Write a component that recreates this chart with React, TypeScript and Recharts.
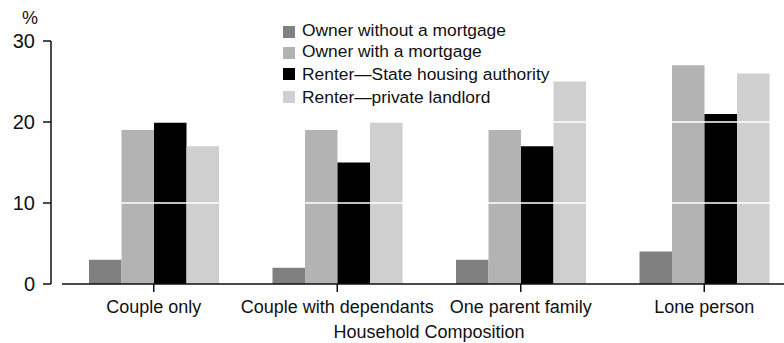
import React from 'react';
import {
  BarChart,
  Bar,
  XAxis,
  YAxis,
  Legend,
  ReferenceLine,
  Label,
} from 'recharts';

const categories = ['Couple only', 'Couple with dependants', 'One parent family', 'Lone person'];
const ownerNoMortgage = [3, 2, 3, 4];
const ownerMortgage = [19, 19, 19, 27];
const renterState = [20, 15, 17, 21];
const renterPrivate = [17, 20, 25, 26];
const yTicks = [0, 10, 20, 30];
const gridValues = [10, 20];

const series = [
  { key: 'ownerNoMortgage', name: 'Owner without a mortgage', color: '#808080' },
  { key: 'ownerMortgage', name: 'Owner with a mortgage', color: '#b3b3b3' },
  { key: 'renterState', name: 'Renter\u2014State housing authority', color: '#000000' },
  { key: 'renterPrivate', name: 'Renter\u2014private landlord', color: '#cfcfcf' },
];

const data = categories.map((cat, i) => ({
  cat,
  ownerNoMortgage: ownerNoMortgage[i],
  ownerMortgage: ownerMortgage[i],
  renterState: renterState[i],
  renterPrivate: renterPrivate[i],
}));

const FONT = '"Liberation Sans", Arial, sans-serif';

// rows in the source legend are not evenly spaced
const rowCentres = [30.5, 51, 74, 97];
const squareShift = [1.5, 1.5, 0, 0];

const LegendBox = () => (
  <div style={{ position: 'relative', width: 300, height: 110, fontFamily: FONT }}>
    {series.map((s, i) => (
      <div key={s.key} style={{ position: 'absolute', left: 0, top: rowCentres[i] - 8.5, height: 17, display: 'flex', alignItems: 'center', whiteSpace: 'nowrap' }}>
        <span style={{ width: 12, height: 12, background: s.color, display: 'inline-block', marginRight: 7, position: 'relative', top: squareShift[i] }} />
        <span style={{ fontSize: 17.4, color: '#111', lineHeight: '17px' }}>{s.name}</span>
      </div>
    ))}
  </div>
);

const XTick = ({ x, y, payload }: any) => (
  <text x={x} y={y + 21} textAnchor="middle" fontSize={18} fontFamily={FONT} fill="#111">
    {payload.value}
  </text>
);

export default function App() {
  return (
    <div style={{ position: 'absolute', left: 0, top: 0, width: 784, height: 343, overflow: 'hidden', background: '#fff', fontFamily: FONT }}>
      <BarChart
        width={800}
        height={343}
        data={data}
        margin={{ top: 41, right: 4, left: 0, bottom: 0 }}
        barGap={0}
        barSize={32.5}
      >
        <XAxis
          dataKey="cat"
          height={59}
          padding={{ left: 11, right: 0 }}
          axisLine={{ stroke: '#111', strokeWidth: 1.5, strokeDasharray: '0 11 3000' }}
          tickLine={{ stroke: '#111', strokeWidth: 1.5 }}
          tickSize={8}
          tickMargin={0}
          tick={<XTick />}
          interval={0}
        >
          <Label
            content={({ viewBox }: any) => (
              <text
                x={viewBox.x + 11 + (viewBox.width - 11) / 2}
                y={viewBox.y + viewBox.height - 5}
                textAnchor="middle"
                fontSize={18}
                fontFamily={FONT}
                fill="#111"
              >
                Household Composition
              </text>
            )}
          />
        </XAxis>
        <YAxis
          width={51}
          domain={[0, 30]}
          ticks={yTicks}
          interval={0}
          axisLine={{ stroke: '#111', strokeWidth: 1.5 }}
          tickLine={{ stroke: '#111', strokeWidth: 1.5 }}
          tickSize={8}
          tickMargin={8}
          tick={{ fontSize: 20, fill: '#111', fontFamily: FONT }}
        >
          <Label
            content={({ viewBox }: any) => (
              <text
                x={viewBox.x + viewBox.width - 21}
                y={viewBox.y - 17}
                textAnchor="middle"
                fontSize={18}
                fontFamily={FONT}
                fill="#111"
              >
                %
              </text>
            )}
          />
        </YAxis>
        <Legend
          layout="horizontal"
          verticalAlign="middle"
          align="center"
          wrapperStyle={{ position: 'absolute', left: 283, top: 0, width: 300 }}
          content={() => <LegendBox />}
        />
        {series.map((s) => (
          <Bar key={s.key} dataKey={s.key} name={s.name} fill={s.color} isAnimationActive={false} />
        ))}
        {gridValues.map((v) => (
          <ReferenceLine key={v} y={v} stroke="#ffffff" strokeWidth={1.5} />
        ))}
      </BarChart>
    </div>
  );
}
